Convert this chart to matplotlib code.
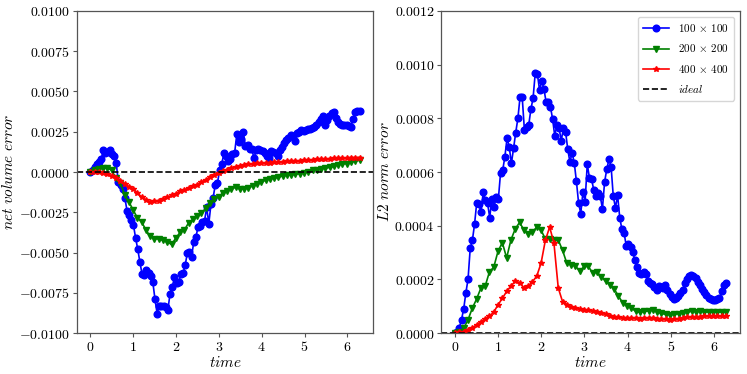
import numpy as np
import matplotlib
matplotlib.use("Agg")
import matplotlib.pyplot as plt
from matplotlib.ticker import FuncFormatter

plt.rcParams['mathtext.fontset'] = 'cm'
plt.rcParams['font.family'] = ['DejaVu Serif']

# time grids (coarse mesh saves every step ~0.05, finer meshes every ~0.1)
t_100 = np.linspace(0, 2 * np.pi, 126)
t_fine = np.linspace(0, 2 * np.pi, 64)

labels = [r'$100\,\times\,100$', r'$200\,\times\,200$', r'$400\,\times\,400$', r'$ideal$']

# ---- net volume error (units of 1e-3) ----
vol_100 = np.array([
    0.0, 0.1, 0.3, 0.5, 0.6, 0.8, 1.35, 1.15, 1.25, 1.35,
    1.1, 1.0, 0.55, -0.65, -0.8, -1.05, -1.6, -2.4, -2.7, -3.0,
    -3.3, -4.1, -4.8, -5.6, -6.35, -6.4, -6.1, -6.25, -6.45, -6.85,
    -7.9, -8.8, -8.3, -8.35, -8.35, -8.4, -8.55, -7.55, -7.15, -6.55,
    -6.9, -6.85, -6.35, -6.3, -5.8, -5.05, -4.95, -5.25, -4.35, -4.05,
    -3.4, -3.35, -3.1, -3.05, -2.2, -3.2, -2.0, -1.6, -0.8, -0.7,
    0.1, 0.5, 1.15, 1.0, 0.7, 0.8, 1.1, 1.2, 2.35, 1.85,
    2.05, 2.5, 1.6, 1.7, 1.45, 1.4, 0.85, 1.35, 1.45, 1.35,
    1.3, 1.2, 1.0, 0.85, 1.3, 1.25, 1.2, 1.0, 1.35, 1.55,
    1.8, 2.0, 2.1, 2.3, 2.25, 1.9, 2.45, 2.5, 2.6, 2.55,
    2.6, 2.65, 2.7, 2.75, 2.8, 2.95, 3.1, 3.3, 3.5, 2.9,
    3.2, 3.45, 3.65, 3.7, 3.35, 3.1, 3.0, 2.95, 2.9, 2.9,
    2.85, 2.8, 3.3, 3.7, 3.8, 3.8]) * 1e-3

vol_200 = np.array([
    0.0, 0.1, 0.2, 0.25, 0.25, 0.1, -0.4, -0.7, -1.4, -1.85,
    -2.35, -2.85, -3.1, -3.6, -4.0, -4.15, -4.15, -4.25, -4.35, -4.5,
    -4.1, -3.75, -3.6, -3.15, -2.95, -2.75, -2.55, -2.25, -1.9, -1.7,
    -1.55, -1.3, -1.2, -1.05, -0.95, -1.05, -1.05, -1.0, -0.85, -0.75,
    -0.65, -0.5, -0.42, -0.38, -0.32, -0.25, -0.2, -0.18, -0.14, -0.1,
    -0.05, 0.0, 0.1, 0.15, 0.2, 0.25, 0.28, 0.35, 0.45, 0.5,
    0.52, 0.6, 0.7, 0.72]) * 1e-3

vol_400 = np.array([
    0.0, 0.0, -0.02, -0.08, -0.13, -0.22, -0.38, -0.55, -0.72, -0.92,
    -1.05, -1.3, -1.55, -1.75, -1.88, -1.8, -1.77, -1.7, -1.58, -1.45,
    -1.35, -1.2, -1.1, -1.0, -0.9, -0.78, -0.62, -0.48, -0.33, -0.17,
    -0.05, 0.05, 0.15, 0.24, 0.32, 0.38, 0.43, 0.47, 0.5, 0.53,
    0.55, 0.57, 0.59, 0.61, 0.62, 0.64, 0.66, 0.67, 0.69, 0.7,
    0.72, 0.74, 0.76, 0.78, 0.8, 0.81, 0.83, 0.84, 0.86, 0.87,
    0.88, 0.9, 0.9, 0.9]) * 1e-3

# ---- L2 norm error (units of 1e-4) ----
l2_100 = np.array([
    0.0, 0.05, 0.2, 0.5, 0.9, 1.5, 2.0, 3.15, 3.45, 4.05,
    4.85, 4.8, 4.5, 5.25, 4.95, 4.85, 4.3, 5.0, 4.7, 5.05,
    5.0, 5.97, 6.07, 6.57, 7.26, 6.94, 6.32, 6.88, 7.47, 8.0,
    8.8, 8.78, 7.57, 7.69, 7.75, 8.34, 8.75, 9.68, 9.65, 9.05,
    9.4, 9.1, 8.62, 8.62, 8.44, 7.98, 7.35, 7.75, 7.63, 7.17,
    7.63, 7.5, 6.85, 6.37, 6.72, 6.35, 5.65, 4.85, 4.45, 5.25,
    4.9, 6.29, 5.79, 5.73, 5.33, 5.1, 5.23, 5.1, 4.63, 5.63,
    6.1, 6.47, 6.2, 5.1, 4.67, 5.13, 4.29, 3.86, 3.73, 3.24,
    3.3, 3.2, 3.02, 2.71, 2.45, 2.22, 2.2, 2.27, 2.2, 1.95,
    1.88, 1.82, 1.72, 1.6, 1.75, 1.72, 1.68, 1.79, 1.6, 1.45,
    1.33, 1.26, 1.3, 1.38, 1.48, 1.62, 1.85, 2.02, 2.12, 2.16,
    2.12, 2.05, 1.9, 1.78, 1.65, 1.52, 1.4, 1.32, 1.26, 1.24,
    1.23, 1.25, 1.3, 1.55, 1.8, 1.88]) * 1e-4

l2_200 = np.array([
    0.0, 0.05, 0.18, 0.48, 0.92, 1.26, 1.67, 1.74, 2.28, 2.45,
    3.05, 3.37, 2.8, 3.47, 3.88, 4.12, 3.85, 3.7, 3.76, 3.95,
    3.84, 3.5, 3.5, 3.48, 3.47, 3.08, 2.6, 2.55, 2.5, 2.3,
    2.48, 2.48, 2.24, 2.27, 2.1, 1.93, 1.8, 1.64, 1.38, 1.12,
    1.02, 0.93, 0.81, 0.77, 0.81, 0.82, 0.87, 0.78, 0.73, 0.69,
    0.68, 0.7, 0.72, 0.76, 0.77, 0.81, 0.79, 0.81, 0.79, 0.78,
    0.78, 0.78, 0.78, 0.78]) * 1e-4

l2_400 = np.array([
    0.0, 0.02, 0.05, 0.12, 0.2, 0.3, 0.42, 0.52, 0.63, 0.78,
    1.05, 1.29, 1.55, 1.75, 1.93, 1.88, 1.68, 1.75, 1.91, 2.12,
    2.6, 3.45, 3.95, 3.35, 1.68, 1.17, 1.06, 0.98, 0.92, 0.89,
    0.87, 0.85, 0.82, 0.78, 0.75, 0.7, 0.65, 0.61, 0.58, 0.57,
    0.57, 0.56, 0.55, 0.54, 0.55, 0.55, 0.56, 0.54, 0.53, 0.52,
    0.5, 0.52, 0.54, 0.57, 0.58, 0.6, 0.6, 0.61, 0.62, 0.62,
    0.62, 0.62, 0.62, 0.62]) * 1e-4

fig = plt.figure(figsize=(7.47, 3.74), dpi=100)
ax1 = fig.add_axes([0.103, 0.1096, 0.3963, 0.861])
ax2 = fig.add_axes([0.591, 0.1096, 0.399, 0.861])

lw = 1.2
styles = [dict(color='blue', marker='o', ms=4.8),
          dict(color='green', marker='v', ms=4.6),
          dict(color='red', marker='*', ms=4.2)]

for ax, series in ((ax1, [(t_100, vol_100), (t_fine, vol_200), (t_fine, vol_400)]),
                   (ax2, [(t_100, l2_100), (t_fine, l2_200), (t_fine, l2_400)])):
    for (tt, yy), st, lab in zip(series, styles, labels[:3]):
        ax.plot(tt, yy, lw=lw, label=lab, **st)
    ax.axhline(0.0, color='black', ls='--', lw=1.2, label=labels[3])
    ax.set_xlabel(r'$time$', fontsize=11, labelpad=1)
    ax.set_xticks([0, 1, 2, 3, 4, 5, 6])
    ax.xaxis.set_major_formatter(FuncFormatter(lambda v, p: r'$%d$' % v))
    ax.yaxis.set_major_formatter(FuncFormatter(lambda v, p: r'$%.4f$' % v))
    ax.tick_params(labelsize=10, length=3, width=0.8, color='#555555', pad=2)
    for s in ax.spines.values():
        s.set_color('#555555')
        s.set_linewidth(0.9)

ax1.set_ylim(-0.01, 0.01)
ax1.set_yticks(np.arange(-0.01, 0.01001, 0.0025))
ax1.set_ylabel(r'$net\ volume\ error$', fontsize=11, labelpad=2)

ax2.set_ylim(0, 0.0012)
ax2.set_yticks(np.arange(0, 0.00121, 0.0002))
ax2.set_ylabel(r'$L2\ norm\ error$', fontsize=11, labelpad=2)
ax2.legend(loc='upper right', fontsize=8, handlelength=2.3, labelspacing=0.75,
           borderpad=0.5, handletextpad=0.8, framealpha=0.8, edgecolor='#cccccc')

fig.savefig('out.png', dpi=100)
